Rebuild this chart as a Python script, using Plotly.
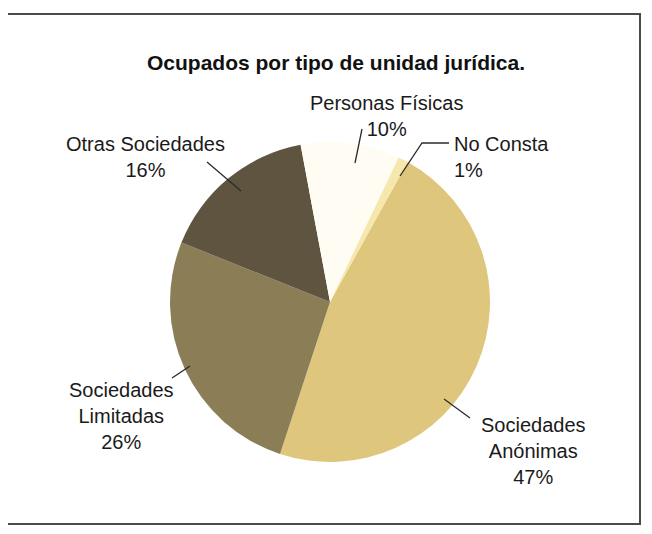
import plotly.graph_objects as go

# the page body has an 8px margin, so the figure is drawn smaller and
# positions are given in page pixels and shifted by that offset
OFF = 8
W, H = 652 - 2 * OFF, 534 - 2 * OFF

# data, in drawing order (clockwise)
labels = ["Sociedades Anónimas", "Sociedades Limitadas", "Otras Sociedades",
          "Personas Físicas", "No Consta"]
values = [47, 26, 16, 10, 1]
colors = ["#DEC77C", "#8B7E56", "#5E5440", "#FFFDF3", "#F6E8AC"]
label_text = ["Sociedades<br>Anónimas<br>47%", "Sociedades<br>Limitadas<br>26%",
              "Otras Sociedades<br>16%", "Personas Físicas<br>10%", "No Consta<br>1%"]


def px(x, y):
    return (x - OFF) / W, 1 - (y - OFF) / H


# pie placement in page pixels: centre (330, 302), radius 160
cx, cy, r = 330, 302, 160
x0, y0 = px(cx - r, cy + r)
x1, y1 = px(cx + r, cy - r)

fig = go.Figure(
    go.Pie(
        labels=labels,
        values=values,
        marker=dict(colors=colors, line=dict(width=0)),
        sort=False,
        direction="clockwise",
        rotation=29,
        textinfo="none",
        hoverinfo="label+percent",
        showlegend=False,
        domain=dict(x=[x0, x1], y=[y0, y1]),
    )
)

FONT = "Liberation Sans, Arial"

# label positions (page pixel centres) and alignment
label_pos = [(533, 451, "center"), (122, 416, "center"), (145, 157, "center"),
             (386, 116, "center"), (452, 157, "left")]
annotations = []
for txt, (lx, ly, al) in zip(label_text, label_pos):
    ax_, ay_ = px(lx, ly)
    annotations.append(dict(
        x=ax_, y=ay_, xref="paper", yref="paper", text=txt, showarrow=False,
        xanchor="left" if al == "left" else "center", yanchor="middle",
        align=al, font=dict(family=FONT, size=20, color="#1a1a1a"),
    ))

tx, ty = px(336, 62)
annotations.append(dict(
    x=tx, y=ty, xref="paper", yref="paper",
    text="<b>Ocupados por tipo de unidad jurídica.</b>", showarrow=False,
    xanchor="center", yanchor="middle",
    font=dict(family=FONT, size=21, color="#111111"),
))

# leader lines (page pixels)
leaders = [
    [(444, 399), (470, 418)],
    [(172, 378), (190, 366)],
    [(207, 162), (241, 191)],
    [(362, 129), (355, 163)],
    [(449, 143), (422, 143), (400, 176)],
]
shapes = []
for pts in leaders:
    path = "M " + " L ".join(f"{px(x, y)[0]:.5f},{px(x, y)[1]:.5f}" for x, y in pts)
    shapes.append(dict(type="path", path=path, xref="paper", yref="paper",
                       line=dict(color="#2b2b2b", width=1.3)))

# frame around the chart
bx0, by0 = px(6, 524)
bx1, by1 = px(640, 14)
shapes.append(dict(type="rect", xref="paper", yref="paper",
                   x0=bx0, y0=by0, x1=bx1, y1=by1,
                   line=dict(color="#4a4a4a", width=2)))

fig.update_layout(
    width=W, height=H,
    margin=dict(l=0, r=0, t=0, b=0),
    paper_bgcolor="white",
    plot_bgcolor="white",
    annotations=annotations,
    shapes=shapes,
)

fig.write_html("out.html")
